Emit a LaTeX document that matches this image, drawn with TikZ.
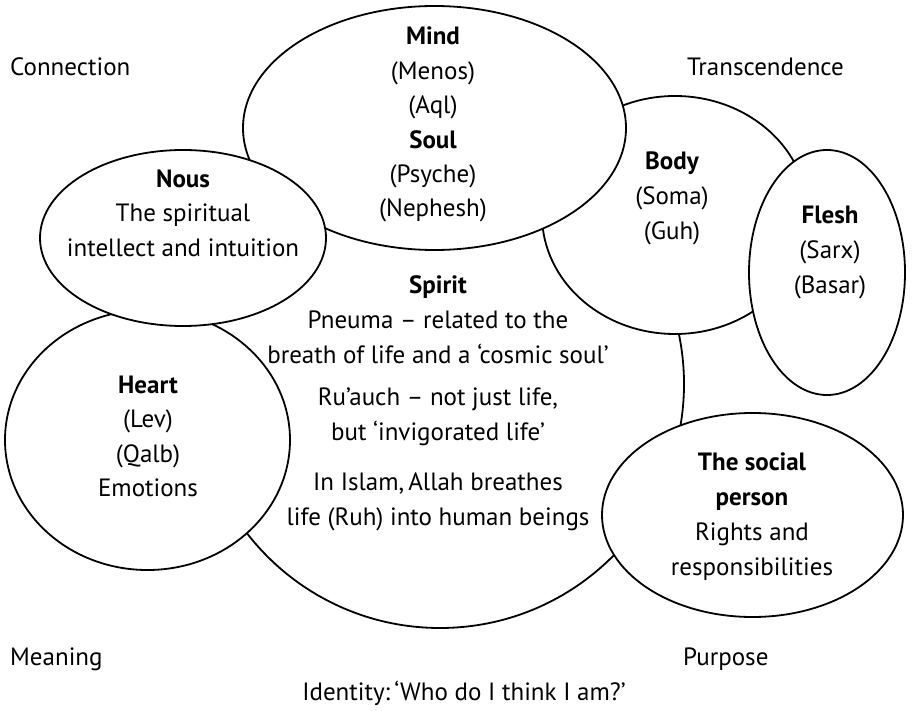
\documentclass[tikz,border=0pt]{standalone}
\usepackage{fontspec}
\setmainfont{PT Sans}
\usetikzlibrary{shapes.geometric}
\begin{document}
\begin{tikzpicture}[x=1pt,y=-1pt,
  blob/.style={ellipse, draw=black, line width=1.8pt, fill=white, inner sep=0pt, outer sep=0pt},
  txt/.style={anchor=base, inner sep=0pt, font=\fontsize{25}{30}\selectfont},
  ttl/.style={anchor=base, inner sep=0pt, font=\fontsize{25}{30}\selectfont\bfseries}]
\useasboundingbox[fill=white] (0,0) rectangle (912,711);
% circles, back to front
\node[blob, minimum width=488pt, minimum height=488pt] (spirit) at (440,384) {};
\node[blob, minimum width=285pt, minimum height=260pt] (heart) at (147.5,440) {};
\node[blob, minimum width=266pt, minimum height=238pt] (body) at (675,215) {};
\node[blob, minimum width=383pt, minimum height=244pt] (mind) at (434.5,128) {};
\node[blob, minimum width=286pt, minimum height=176pt] (nous) at (183,238) {};
\node[blob, minimum width=156pt, minimum height=245pt] (flesh) at (827,272.5) {};
\node[blob, minimum width=301pt, minimum height=204pt] (social) at (752.5,515) {};
% Mind / Soul
\node[ttl] (m1) at (433,45) {Mind};
\node[txt] (m2) at (433,79.5) {(Menos)};
\node[txt] (m3) at (433,114) {(Aql)};
\node[ttl] (m4) at (433,148.3) {Soul};
\node[txt] (m5) at (433,182.7) {(Psyche)};
\node[txt] (m6) at (433,217) {(Nephesh)};
% Nous
\node[ttl] (n1) at (183,187.3) {Nous};
\node[txt] (n2) at (183,222) {The spiritual};
\node[txt] (n3) at (183,256.7) {intellect and intuition};
% Body
\node[ttl] (b1) at (672,170) {Body};
\node[txt] (b2) at (672,205) {(Soma)};
\node[txt] (b3) at (672,240) {(Guh)};
% Flesh
\node[ttl] (f1) at (830,223.3) {Flesh};
\node[txt] (f2) at (830,258.3) {(Sarx)};
\node[txt] (f3) at (830,293.3) {(Basar)};
% Spirit
\node[ttl] (s1) at (438,293) {Spirit};
\node[txt] (s2) at (438,328) {Pneuma – related to the};
\node[txt] (s3) at (438,363) {breath of life and a ‘cosmic soul’};
\node[txt] (s4) at (438,405) {Ru’auch – not just life,};
\node[txt] (s5) at (438,440) {but ‘invigorated life’};
\node[txt] (s6) at (438,490) {In Islam,\,Allah breathes};
\node[txt] (s7) at (438,525) {life (Ruh) into human beings};
% Heart
\node[ttl] (h1) at (148,393) {Heart};
\node[txt] (h2) at (148,427.5) {(Lev)};
\node[txt] (h3) at (148,462) {(Qalb)};
\node[txt] (h4) at (148,496.5) {Emotions};
% Social person
\node[ttl] (p1) at (752,470) {The social};
\node[ttl] (p2) at (752,505) {person};
\node[txt] (p3) at (752,540) {Rights and};
\node[txt] (p4) at (752,575) {responsibilities};
% corner labels
\node[txt, anchor=base west] (c1) at (10,76) {Connection};
\node[txt, anchor=base west] (c2) at (687,76) {Transcendence};
\node[txt, anchor=base west] (c3) at (10,665) {Meaning};
\node[txt, anchor=base west] (c4) at (683,665) {Purpose};
\node[txt] (c5) at (464,700) {Identity:\,‘Who do I think I am?’};
\end{tikzpicture}
\end{document}
